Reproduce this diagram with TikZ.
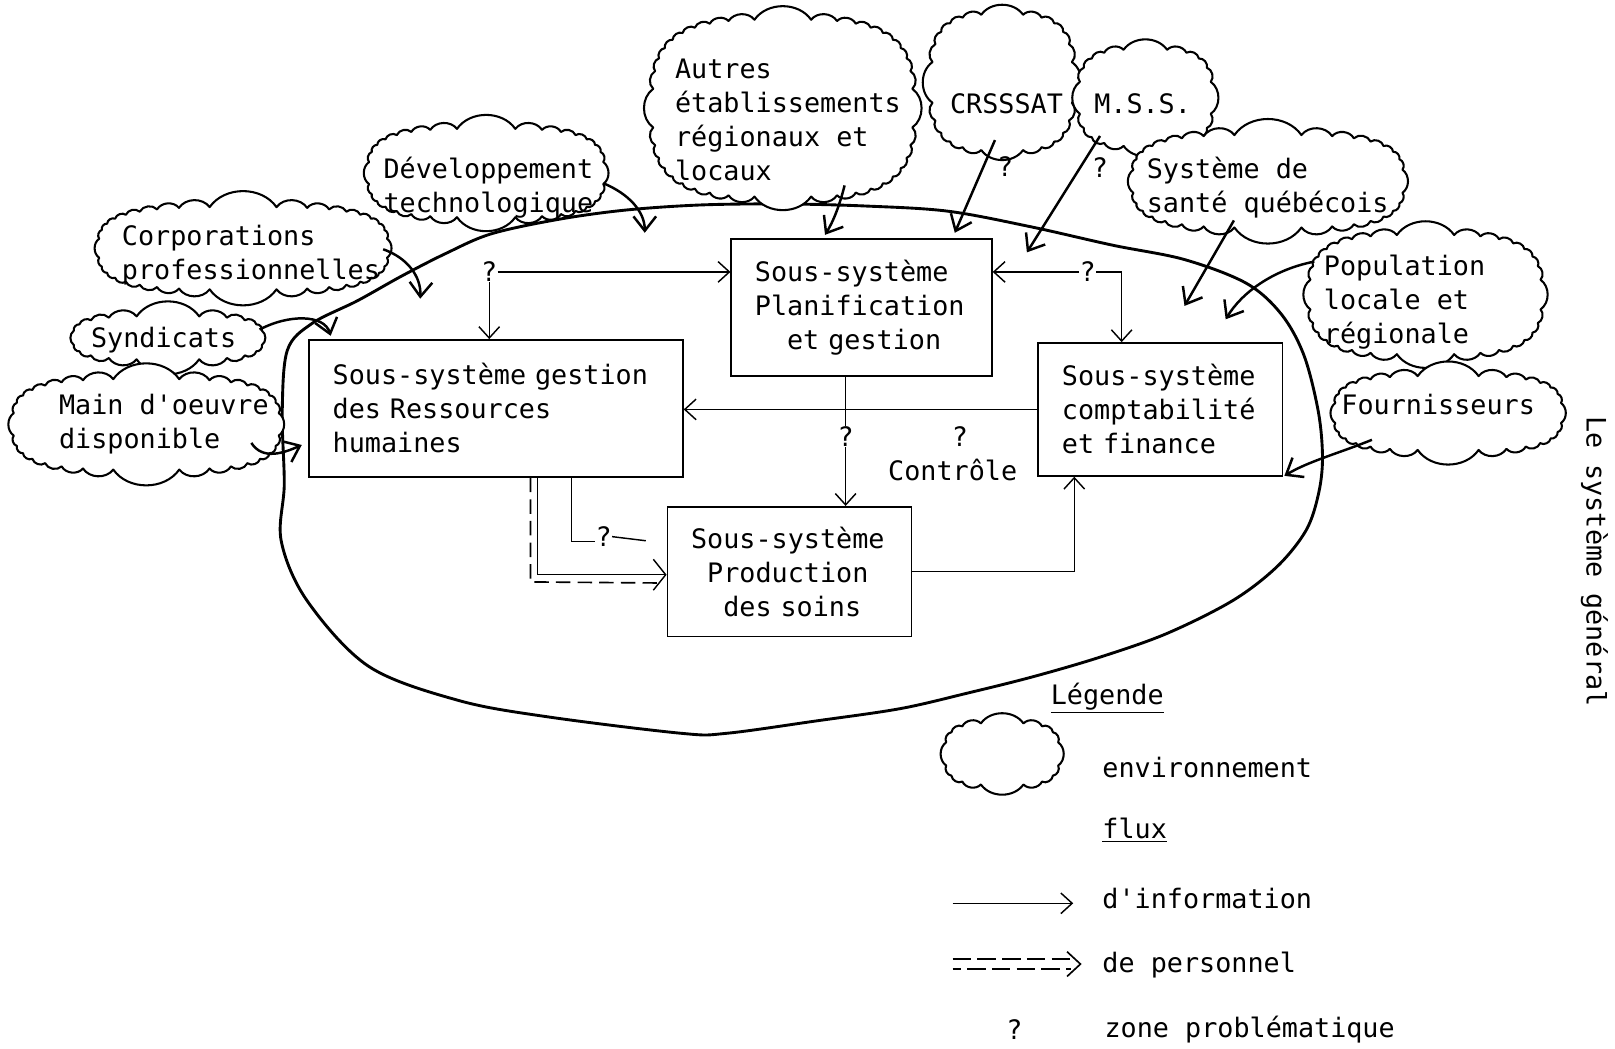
\documentclass[tikz,border=0pt]{standalone}
\usepackage{fontspec}
\setmonofont{DejaVu Sans Mono}
\usetikzlibrary{arrows.meta}
% scalloped cloud: name, centre x, centre y, half width, half height, number of puffs
\newcommand{\envcloud}[6]{%
  \coordinate (#1) at (#2,#3);
  \draw[cloudline] ({#2+#4*cpx(180/#6)},{#3+#5*cpy(180/#6)})
    \foreach \k in {1,...,#6}{
      to[bend left=55] ({#2+#4*cpx((\k+0.5)*360/#6)},{#3+#5*cpy((\k+0.5)*360/#6)})
    } -- cycle;}
\begin{document}
\begin{tikzpicture}[x=0.5pt,y=-0.5pt,
  declare function={
    cpx(\t)=pow(abs(cos(\t)),0.6)*(2*(cos(\t)>0)-1);
    cpy(\t)=pow(abs(sin(\t)),0.6)*(2*(sin(\t)>0)-1);},
  every node/.style={font=\ttfamily\fontsize{13pt}{16.5pt}\selectfont, inner sep=0pt},
  cloudline/.style={draw, fill=white, line width=1pt, line join=round},
  txt/.style={align=left, anchor=west},
  subbox/.style={draw, line width=0.8pt, align=left, inner xsep=11.5pt, inner ysep=0pt},
  flow/.style={line width=0.7pt, -{Straight Barb[length=5.5pt,width=10pt]}},
  plain/.style={line width=0.7pt},
  ext/.style={line width=1.2pt, -{Straight Barb[length=7pt,width=11pt]}},
]
\useasboundingbox (0,0) rectangle (1568,1018);

% boundary of the establishment
\draw[line width=1.4pt] plot[smooth cycle, tension=0.55] coordinates {
  (276,470) (274,400) (279,340) (303,314) (347,292) (390,268) (433,246)
  (477,227) (542,213) (607,204) (680,199) (760,198) (840,200) (920,205)
  (1000,220) (1080,238) (1150,252) (1210,275) (1244,305) (1266,345)
  (1280,400) (1284,445) (1280,480) (1268,515) (1240,550) (1197,583)
  (1133,615) (1068,638) (1003,657) (939,673) (874,688) (792,700)
  (705,712) (662,712) (532,696) (445,680) (358,647) (298,583) (273,525)};

% environment clouds
\envcloud{corp}{236}{241}{140}{40}{36}
\envcloud{synd}{163}{328}{92}{21}{20}
\envcloud{main}{142}{412}{129}{44}{32}
\envcloud{dev}{472}{168}{114}{43}{32}
\envcloud{autres}{760}{105}{126}{86}{40}
\envcloud{crss}{973}{80}{68}{66}{24}
\envcloud{mss}{1112}{95}{64}{47}{20}
\envcloud{sante}{1231}{176}{131}{45}{32}
\envcloud{pop}{1384}{286}{112}{58}{32}
\envcloud{fourn}{1406}{401}{110}{36}{28}

\node[txt] (corpt) at (118,248) {Corporations\\professionnelles};
\node[txt] (syndt) at (88,330) {Syndicats};
\node[txt] (maint) at (57,412) {Main d'oeuvre\\disponible};
\node[txt] (devt) at (372,182) {Développement\\technologique};
\node[txt] (autrest) at (655,116) {Autres\\établissements\\régionaux et\\locaux};
\node[txt] (crsst) at (922,101) {CRSSSAT};
\node[txt] (msst) at (1062,101) {M.S.S.};
\node[txt] (santet) at (1113,182) {Système de\\santé québécois};
\node[txt] (popt) at (1285,293) {Population\\locale et\\régionale};
\node[txt] (fournt) at (1302,393) {Fournisseurs};

% sub-systems
\node[subbox, minimum width=181.5pt, minimum height=66.5pt, text width=158.5pt] (rh) at (481.5,396.5)
  {Sous-système gestion\\des Ressources\\humaines};
\node[subbox, minimum width=126.5pt, minimum height=66.5pt, text width=103.5pt] (pg) at (836.5,298.5)
  {Sous-système\\Planification\\\hspace*{1.2em}et gestion};
\node[subbox, minimum width=118.5pt, minimum height=64.5pt, text width=95.5pt] (cf) at (1126.5,397.5)
  {Sous-système\\comptabilité\\et finance};
\node[subbox, minimum width=118.5pt, minimum height=63pt, text width=95.5pt] (ps) at (766.5,555)
  {Sous-système\\\hspace*{0.6em}Production\\\hspace*{1.2em}des soins};

% flows from the environment
\coordinate (corpA) at (372,242);  \coordinate (corpB) at (408,290);
\coordinate (syndA) at (252,320);  \coordinate (syndB) at (321,326);
\coordinate (mainA) at (244,430);  \coordinate (mainB) at (293,432);
\coordinate (devA) at (586,178);   \coordinate (devB) at (626,226);
\coordinate (autA) at (820,180);   \coordinate (autB) at (801,228);
\coordinate (crsA) at (966,136);   \coordinate (crsB) at (927,226);
\coordinate (mssA) at (1068,132);  \coordinate (mssB) at (997,245);
\coordinate (sanA) at (1198,214);  \coordinate (sanB) at (1150,297);
\coordinate (popA) at (1276,254);  \coordinate (popB) at (1190,310);
\coordinate (fouA) at (1332,427);  \coordinate (fouB) at (1247,462);

\draw[ext] (corpA) .. controls (395,250) and (409,268) .. (corpB);
\draw[ext] (syndA) .. controls (280,305) and (315,305) .. (syndB);
\draw[ext] (mainA) .. controls (255,447) and (275,440) .. (mainB);
\draw[ext] (devA) .. controls (610,188) and (626,205) .. (devB);
\draw[ext] (autA) .. controls (815,200) and (809,215) .. (autB);
\draw[ext] (crsA) -- (crsB);
\draw[ext] (mssA) -- (mssB);
\draw[ext] (sanA) -- (sanB);
\draw[ext] (popA) .. controls (1235,262) and (1205,285) .. (popB);
\draw[ext] (fouA) .. controls (1300,440) and (1270,448) .. (fouB);
\node (qcrs) at (976,162) {?};
\node (qmss) at (1068,163) {?};

% internal information flows
\node (q1) at (475,264) {?};
\draw[flow] (q1.east) -- (q1.east -| pg.west);
\draw[flow] (q1.south) -- (q1.south |- rh.north);

\node (q2) at (1056,264) {?};
\coordinate (q2c) at (1089,264);
\draw[flow] (q2.west) -- (q2.west -| pg.east);
\draw[flow] (q2.east) -- (q2c) -- (q2c |- cf.north);

\draw[flow] (cf.west) -- (cf.west -| rh.east);

\node (q3) at (821,424) {?};
\draw[plain] (q3.north |- pg.south) -- (q3.north);
\draw[flow] (q3.south) -- (q3.south |- ps.north);

\node (q4) at (932,424) {?};
\node (ctrl) at (925,456) {Contrôle};

\coordinate (pc) at (1043,556);
\draw[flow] (ps.east) -- (ps.east -| pc) -- (pc |- cf.south);

\node (q5) at (586,521) {?};
\coordinate (rq) at (555,526);
\coordinate (q5end) at (627,525);
\draw[plain] (rq |- rh.south) -- (rq) -- (q5.west |- rq);
\draw[plain] (q5.east) -- (q5end);

% personnel flow
\coordinate (pin) at (522,558);
\coordinate (pout) at (515,565);
\coordinate (poutend) at (640,566);
\draw[line width=0.7pt, -{Straight Barb[length=6pt,width=15pt]}] (pin |- rh.south) -- (pin) -- (pin -| ps.west);
\draw[line width=0.8pt, dash pattern=on 7pt off 3.5pt] (pout |- rh.south) -- (pout) -- (poutend);

% legend
\node (leg) at (1075,678) {\underline{Légende}};
\envcloud{legcloud}{973}{732}{55}{30}{16}
\node[txt] (envt) at (1070,745) {environnement};
\node[txt] (fluxt) at (1070,806) {\underline{flux}};
\node[txt] (infot) at (1070,872) {d'information};
\node[txt] (perst) at (1070,937) {de personnel};
\node (qleg) at (985,1000) {?};
\node[txt] (zonet) at (1072,1000) {zone problématique};

\coordinate (infA) at (925,877);  \coordinate (infB) at (1042,877);
\draw[flow] (infA) -- (infB);
\coordinate (peA1) at (925,931);  \coordinate (peB1) at (1040,931);
\coordinate (peA2) at (925,941);  \coordinate (peB2) at (1040,941);
\coordinate (peT) at (1049,936);
\draw[line width=0.8pt, dash pattern=on 9pt off 3pt] (peA1) -- (peB1);
\draw[line width=0.8pt, dash pattern=on 9pt off 3pt, dash phase=5pt] (peA2) -- (peB2);
\draw[line width=0.8pt] (1036,924) -- (peT) -- (1036,948);

% title of the whole
\node[rotate=-90] (titre) at (1548,545) {Le système général};
\end{tikzpicture}
\end{document}
